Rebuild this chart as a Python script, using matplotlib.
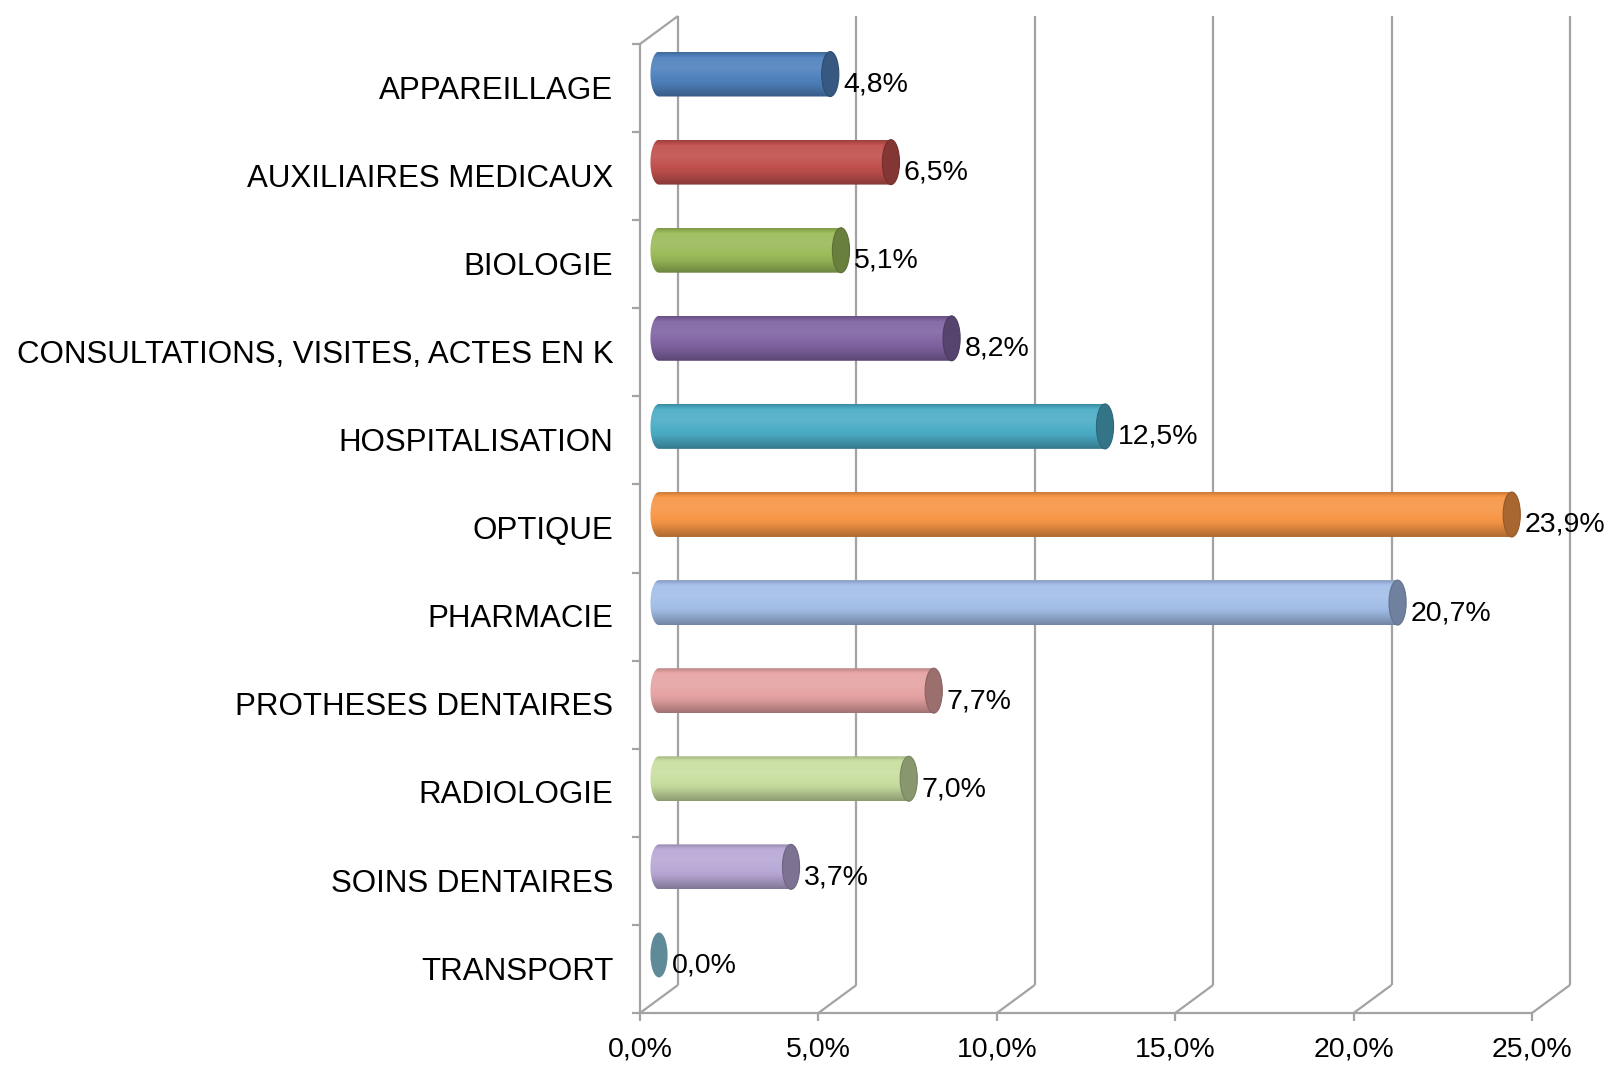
import numpy as np
import matplotlib
matplotlib.use("Agg")
import matplotlib.pyplot as plt
from matplotlib.patches import Ellipse, PathPatch
from matplotlib.path import Path

plt.rcParams['font.family'] = ['Liberation Sans', 'DejaVu Sans']

categories = ["APPAREILLAGE", "AUXILIAIRES MEDICAUX", "BIOLOGIE",
              "CONSULTATIONS, VISITES, ACTES EN K", "HOSPITALISATION",
              "OPTIQUE", "PHARMACIE", "PROTHESES DENTAIRES", "RADIOLOGIE",
              "SOINS DENTAIRES", "TRANSPORT"]
values = [4.8, 6.5, 5.1, 8.2, 12.5, 23.9, 20.7, 7.7, 7.0, 3.7, 0.0]
colors = ["#4F81BD", "#C0504D", "#9BBB59", "#8064A2", "#4BACC6", "#F79646",
          "#A3BEE8", "#E6A3A3", "#C8DEA0", "#B8A8D6", "#5E8B97"]
xticks = [0, 5, 10, 15, 20, 25]
xlabels = ["0,0%", "5,0%", "10,0%", "15,0%", "20,0%", "25,0%"]

# 3d depth offset (in data units)
dx = 1.065
dy = 0.318
grid_c = "#a3a3a3"
lw = 1.6

fig = plt.figure(figsize=(16.1, 10.65), dpi=100)
ax = fig.add_axes([640 / 1610, 52 / 1065, 892 / 1610, 969 / 1065])
n = len(categories)
ax.set_xlim(0, 25)
ax.set_ylim(n - 0.5, -0.5)
ax.axis("off")


def line(xs, ys):
    ax.plot(xs, ys, color=grid_c, lw=lw, clip_on=False, solid_capstyle="butt", zorder=1)


ybot, ytop = n - 0.5, -0.5
# side wall
line([0, 0], [ybot, ytop])
line([0, dx], [ytop, ytop - dy])
line([dx, dx], [ybot - dy, ytop - dy])
line([0, dx], [ybot, ybot - dy])
# front axis + floor diagonals + back gridlines
line([0, 25], [ybot, ybot])
for t in xticks[1:]:
    line([t, t + dx], [ybot, ybot - dy])
    line([t + dx, t + dx], [ybot - dy, ytop - dy])
# ticks
for t in xticks:
    line([t, t], [ybot, ybot + 0.09])
for k in range(n + 1):
    line([0, -0.22], [k - 0.5, k - 0.5])

for t, lab in zip(xticks, xlabels):
    ax.text(t, ybot + 0.42, lab, ha="center", va="center", fontsize=20.5, clip_on=False)
for i, c in enumerate(categories):
    ax.text(-0.75, i + 0.03, c, ha="right", va="center", fontsize=22.5, clip_on=False)


def shade(rgb, f):
    rgb = np.array(rgb)
    if f >= 1:
        return rgb + (1 - rgb) * (f - 1)
    return rgb * f


tt = np.linspace(0, 1, 60)
prof = np.interp(tt, [0, 0.12, 0.35, 0.7, 0.92, 1.0], [0.82, 1.06, 1.10, 0.96, 0.78, 0.7])

h = 0.51
rx = 0.24
for i, (v, col) in enumerate(zip(values, colors)):
    base = matplotlib.colors.to_rgb(col)
    yc = i - dy / 2
    x0 = dx / 2
    x1 = x0 + v
    if v > 0:
        th = np.linspace(np.pi / 2, 3 * np.pi / 2, 40)
        pts = [(x1, yc - h / 2)]
        pts += list(zip(x0 + rx * np.cos(th), yc - (h / 2) * np.sin(th)))
        pts += [(x1, yc + h / 2), (x1, yc - h / 2)]
        codes = [Path.MOVETO] + [Path.LINETO] * (len(pts) - 2) + [Path.CLOSEPOLY]
        body = PathPatch(Path(pts, codes), facecolor="none", edgecolor="none")
        ax.add_patch(body)
        grad = np.array([shade(base, f) for f in prof])[:, None, :]
        im = ax.imshow(grad, extent=[x0 - rx, x1, yc + h / 2, yc - h / 2],
                       aspect="auto", zorder=2, interpolation="bilinear")
        im.set_clip_path(body)
        cap = Ellipse((x1, yc), 2 * rx, h, facecolor=shade(base, 0.68),
                      edgecolor=shade(base, 0.6), lw=0.8, zorder=3)
        ax.add_patch(cap)
    else:
        cap = Ellipse((x0, yc), 2 * rx, h, facecolor=base, edgecolor="none", zorder=3)
        ax.add_patch(cap)
    ax.text(x1 + rx + 0.12, i - 0.04, f"{v:.1f}%".replace(".", ","),
            ha="left", va="center", fontsize=20.5, zorder=4, clip_on=False)

ax.set_xlim(0, 25)
ax.set_ylim(n - 0.5, -0.5)
fig.savefig("out.png", dpi=100)
